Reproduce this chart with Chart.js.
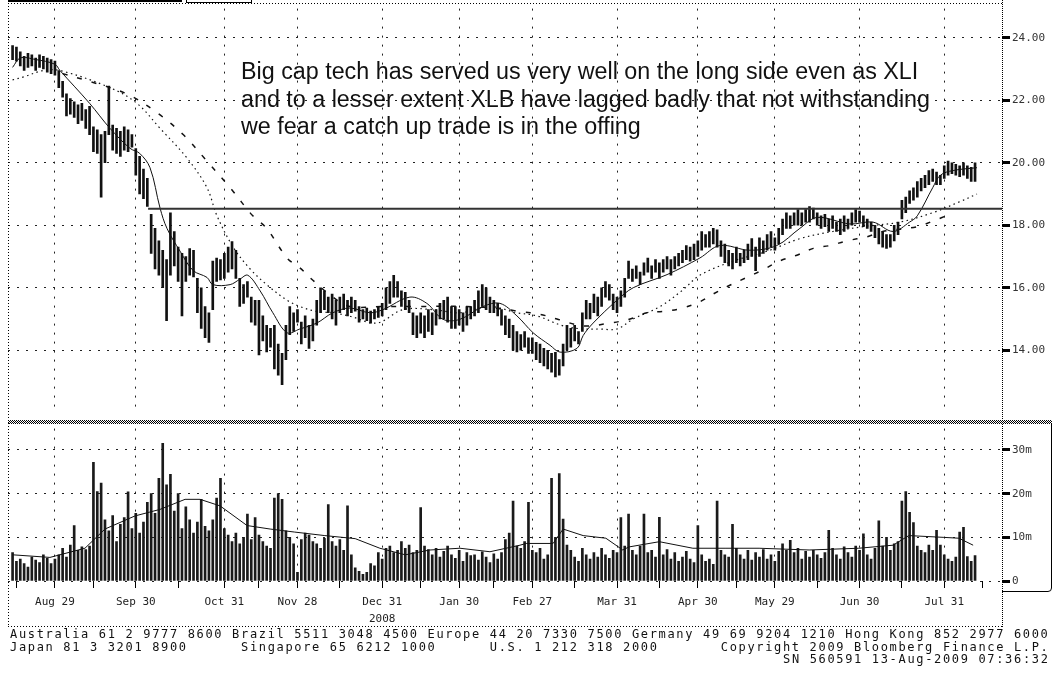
<!DOCTYPE html>
<html>
<head>
<meta charset="utf-8">
<title>XLK daily bars</title>
<script src="https://cdn.jsdelivr.net/npm/chart.js@4.4.1/dist/chart.umd.min.js"></script>
<style>
  html, body { margin: 0; padding: 0; background: #fff; }
  body { position: relative; width: 1056px; height: 677px; overflow: hidden; }
  #price { position: absolute; left: 0; top: 0; }
  #volume { position: absolute; left: 0; top: 420px; }
  .note { position: absolute; left: 241px; top: 58px; font-family: 'Liberation Sans', Arial, sans-serif; font-size: 23.3px; line-height: 27.5px; color: #111; white-space: nowrap; }
  .foot { position: absolute; top: 628px; font-family: 'DejaVu Sans Mono', monospace; font-size: 12px; line-height: 12.5px; letter-spacing: 1.66px; white-space: pre; color: #111; }
</style>
</head>
<body>
<canvas id="price" width="1056" height="422"></canvas>
<canvas id="volume" width="1056" height="210"></canvas>
<div class="note">Big cap tech has served us very well on the long side even as XLI<br>and to a lesser extent XLB have lagged badly that not withstanding<br>we fear a catch up trade is in the offing</div>
<div class="foot" style="left:10px">Australia 61 2 9777 8600 Brazil 5511 3048 4500 Europe 44 20 7330 7500 Germany 49 69 9204 1210 Hong Kong 852 2977 6000
Japan 81 3 3201 8900      Singapore 65 6212 1000      U.S. 1 212 318 2000       Copyright 2009 Bloomberg Finance L.P.</div>
<div class="foot" style="left:783px; top:653px">SN 560591 13-Aug-2009 07:36:32</div>

<script>
// daily bars, trading day 0 = 14 Aug 2008
const highs = [
  23.75,23.70,23.55,23.40,23.50,23.45,23.35,23.45,23.40,23.35,
  23.30,23.25,22.95,22.60,22.20,22.05,21.95,21.85,21.90,21.70,
  21.80,21.15,21.05,20.90,21.00,22.45,21.20,21.10,21.00,21.15,
  21.05,20.90,20.45,20.20,19.80,19.50,18.35,17.90,17.50,17.20,
  16.90,18.40,17.80,17.30,17.10,17.00,17.25,17.20,16.30,16.00,
  15.40,15.20,16.85,16.95,16.90,17.10,17.30,17.48,17.20,16.30,
  16.10,16.20,15.70,15.60,15.60,15.10,14.80,14.70,14.80,14.20,
  13.90,14.80,15.40,15.20,15.30,14.90,15.10,14.80,15.00,15.60,
  16.00,15.90,15.70,15.80,15.60,15.70,15.80,15.60,15.70,15.60,
  15.40,15.30,15.35,15.25,15.30,15.40,15.50,16.00,16.20,16.40,
  16.20,15.90,15.85,15.60,15.20,15.10,15.20,15.10,15.30,15.20,
  15.30,15.50,15.60,15.70,15.40,15.40,15.30,15.20,15.40,15.40,
  15.60,15.90,16.10,16.00,15.70,15.60,15.50,15.30,15.10,15.00,
  14.80,14.60,14.50,14.60,14.40,14.40,14.25,14.20,14.06,14.00,
  13.90,13.93,13.70,14.20,14.80,14.70,14.80,14.60,15.20,15.60,
  15.50,15.80,15.70,16.00,16.20,16.10,15.80,15.70,15.90,16.30,
  16.85,16.60,16.70,16.50,16.80,16.95,16.70,16.90,16.80,16.90,
  17.00,16.90,17.00,17.10,17.20,17.35,17.30,17.40,17.50,17.80,
  17.70,17.80,17.90,17.85,17.50,17.40,17.20,17.10,17.30,17.10,
  17.20,17.40,17.57,17.30,17.60,17.50,17.70,17.80,17.60,17.90,
  18.20,18.40,18.30,18.40,18.50,18.40,18.50,18.60,18.55,18.40,
  18.30,18.35,18.20,18.30,18.10,18.20,18.30,18.20,18.40,18.50,
  18.45,18.30,18.20,18.10,18.00,17.90,17.80,17.70,17.70,18.00,
  18.10,18.80,18.90,19.10,19.20,19.40,19.50,19.60,19.75,19.80,
  19.70,19.60,19.90,20.05,20.00,19.95,19.90,20.00,19.90,19.85,
  20.00
];
const lows = [
  23.30,23.25,23.10,22.95,23.05,23.10,22.95,23.05,23.00,22.90,
  22.85,22.80,22.40,22.10,21.50,21.55,21.45,21.25,21.35,21.10,
  20.90,20.35,20.30,18.90,20.00,20.90,20.40,20.30,20.20,20.40,
  20.35,20.50,19.60,19.00,18.85,18.60,17.10,16.60,16.40,16.00,
  14.95,16.40,16.70,16.20,15.10,16.20,16.40,16.35,15.20,14.70,
  14.40,14.25,15.30,16.20,16.25,16.30,16.50,16.60,16.30,15.40,
  15.50,15.70,14.90,14.80,13.85,14.30,13.95,14.10,13.40,13.20,
  12.90,13.70,14.50,14.60,14.90,14.20,14.40,14.06,14.30,14.80,
  15.20,15.30,15.20,15.00,14.80,15.20,15.30,15.10,15.20,15.25,
  14.90,15.00,14.95,14.87,15.00,15.05,15.10,15.30,15.50,15.70,
  15.70,15.40,15.30,15.20,14.50,14.40,14.55,14.40,14.60,14.50,
  14.80,15.00,15.00,14.90,14.70,14.70,14.80,14.60,14.80,15.00,
  15.10,15.20,15.40,15.30,15.20,15.20,15.10,14.80,14.50,14.40,
  14.00,13.95,14.00,14.10,13.90,13.90,13.70,13.60,13.50,13.40,
  13.30,13.15,13.20,13.50,14.00,14.10,14.30,14.20,14.60,15.00,
  15.00,15.20,15.10,15.40,15.70,15.60,15.30,15.20,15.40,15.70,
  16.30,16.20,16.30,16.10,16.40,16.50,16.30,16.50,16.30,16.50,
  16.60,16.40,16.60,16.70,16.80,16.90,16.85,16.90,17.00,17.20,
  17.30,17.30,17.40,17.30,17.00,16.80,16.70,16.60,16.80,16.70,
  16.80,16.90,17.00,16.55,17.00,17.10,17.20,17.30,17.20,17.40,
  17.70,17.90,17.90,18.00,18.00,18.00,18.10,18.10,18.20,18.00,
  17.90,17.95,17.80,17.90,17.80,17.70,17.80,17.90,18.00,18.10,
  18.10,17.95,17.90,17.80,17.60,17.40,17.30,17.26,17.30,17.50,
  17.70,18.20,18.40,18.70,18.80,18.90,19.10,19.20,19.30,19.40,
  19.30,19.30,19.50,19.60,19.65,19.60,19.55,19.60,19.50,19.40,
  19.40
];
// volume, millions of shares
const volumes = [
  6.5,4.5,5.0,4.0,3.2,5.5,4.8,4.2,6.0,5.2,
  4.0,5.0,6.0,7.5,5.5,8.2,12.7,7.0,7.8,7.2,
  8.0,27.2,20.5,22.4,14.0,11.5,15.0,9.0,13.0,14.5,
  20.4,12.0,15.5,11.0,13.5,18.0,20.0,15.5,23.5,31.5,
  22.0,24.4,16.0,20.0,12.0,17.0,14.0,11.0,13.5,18.7,
  12.5,11.5,14.0,19.0,23.5,12.0,10.5,9.0,11.0,8.5,
  10.0,15.3,9.5,14.5,10.5,9.0,8.0,7.5,19.0,20.0,
  18.7,11.5,10.0,8.5,2.0,9.5,11.0,10.5,9.0,8.5,
  7.5,9.8,17.5,9.0,8.0,9.5,7.0,17.2,6.0,3.0,
  2.2,1.5,2.0,4.0,3.5,6.5,5.0,7.5,8.0,6.5,
  7.0,9.0,7.5,8.2,6.5,7.0,16.8,8.0,7.2,6.0,
  7.5,5.5,6.8,8.0,6.0,5.2,7.0,4.5,6.5,5.8,
  6.0,4.8,6.7,5.5,4.2,6.2,5.0,6.5,9.5,11.0,
  18.3,8.0,7.5,9.0,18.0,7.0,6.5,7.5,5.0,6.0,
  23.5,10.0,24.6,14.2,8.2,7.0,5.5,4.5,7.5,6.0,
  5.0,6.5,5.5,7.5,6.0,5.2,7.0,6.5,14.5,8.0,
  15.3,7.0,6.0,8.0,15.3,6.5,7.0,5.5,14.6,6.0,
  7.2,5.0,6.5,4.5,5.5,6.8,5.0,4.2,12.7,6.0,
  4.5,5.0,3.8,18.3,7.0,6.0,5.5,13.0,7.5,6.0,
  5.0,7.0,4.8,6.5,5.5,7.2,5.0,6.0,4.5,6.8,
  8.5,7.0,9.3,6.5,7.5,5.0,6.8,5.5,7.0,6.0,
  5.2,6.5,11.6,7.5,6.0,5.0,7.8,6.5,5.5,8.0,
  7.0,10.8,6.0,5.0,7.5,13.8,8.0,10.0,7.0,8.5,
  9.0,18.3,20.5,15.7,13.4,8.0,7.0,6.5,8.2,7.0,
  11.6,8.2,6.0,5.0,4.5,5.5,11.2,12.3,5.6,4.5,
  5.8
];

// moving averages (trading day, value)
const maShortDay = [0,2,6,11,12.3,20,25.3,30.5,33,35.7,38.3,40.1,43.5,46.9,50.5,52,56.5,59,61.1,64.3,67.6,71.3,74.6,79,83.2,87.6,92.8,96.2,103.2,107.6,111.8,116.2,122.2,126.6,131,135.2,139.6,142.2,146.6,148.2,150.8,157,161.2,170,178.5,183.7,191.5,198.5,204.5,209,217.5,223.5,228.7,233,235,239,241,244.3,250.5];
const maShort = [23.05,23.35,23.30,23.15,22.95,21.90,21.10,20.46,20.30,19.84,18.55,17.90,17.17,16.55,16.33,16.10,16.10,16.27,16.40,15.90,15.20,14.56,14.68,14.87,15.20,15.35,15.20,15.30,15.70,15.50,14.99,14.99,15.40,15.50,15.10,14.56,14.16,13.94,14.06,14.47,14.87,15.60,16.00,16.42,16.95,17.35,17.20,17.35,17.90,18.25,18.04,18.10,17.80,18.10,18.30,19.20,19.60,19.75,19.84];
const maMidDay = [0,3,8,12.3,25.3,32.3,38.3,45.3,50.5,53.1,57.3,61.7,66,71.3,74.6,79,83.2,87.6,94.6,101.4,109.2,116.2,124,131,136.2,143,148.2,152.6,157,161.2,168.2,174.1,178.5,187.1,196,204.5,213,221.9,230.5,239,246,250.5];
const maMid = [22.65,22.75,22.95,22.95,22.40,21.90,21.10,20.15,19.20,18.30,17.30,16.60,16.10,15.60,15.40,15.24,15.20,15.09,14.87,15.30,15.30,15.20,15.40,15.20,15.10,14.78,14.68,14.68,14.68,15.00,15.40,15.93,16.40,16.85,17.17,17.57,17.80,17.97,18.10,18.40,18.75,19.00];
const maLongDay = [13,20,29.7,37.5,44.3,50.5,56.5,62.4,66,71.3,74.6,78,83.2,87.6,96.2,105,118,126.6,131.8,137,141.4,148.2,155.2,160.4,164.8,169,173.4,178.5,182,186.3,190.7,195,199.3,203.7,208,212.3,216.7,221.9,226,234.9,239,243.5];
const maLong = [22.85,22.60,22.20,21.60,20.90,20.05,19.20,18.30,17.90,16.95,16.64,16.24,15.70,15.40,15.40,15.40,15.40,15.33,15.24,15.15,15.00,14.78,14.87,15.00,15.20,15.24,15.33,15.55,15.80,16.08,16.33,16.58,16.86,17.04,17.26,17.35,17.50,17.63,17.80,17.95,18.13,18.35];
const volMaDay = [0,9.7,18.8,24,31.8,38.3,44.8,48.7,53.9,60.9,66.9,73.3,81.1,89,95.4,102,108.4,116.2,124,131.8,133.4,140.4,143,148.2,154.1,158.5,160.1,168,176.7,185.3,193.9,206.9,219.8,228.7,232.8,241.7,245.8,249.5];
const volMa = [6.0,5.4,7.5,11.9,14.9,16.4,18.7,18.7,17.2,12.7,11.9,11.2,10.4,9.7,7.5,6.0,7.1,7.5,6.7,8.2,8.6,8.6,11.9,10.4,9.8,7.1,7.8,9.0,7.5,7.5,7.5,7.1,7.5,8.2,10.4,10.0,9.8,8.2];

// horizontal line drawn on the chart
const levelPrice = 18.53;
const levelFromDay = 35.2;

// axes
const monthEnds = [11,32,55,74,96,116,135,157,178,198,220,242];
const monthLabels = ['Aug 29','Sep 30','Oct 31','Nov 28','Dec 31','Jan 30','Feb 27','Mar 31','Apr 30','May 29','Jun 30','Jul 31'];
const yearLabel = '2008';
const yearUnder = 'Dec 31';
const midMonths = [1,21,43,64,85,106,125,146,168,188,209,231,252];
const priceTicks = [14,16,18,20,22,24];
const volTicks = [0,10,20,30];
const dayMin = -1.19, dayMax = 257;

const gridDash = [2, 7];
const tickFont = { family: "'DejaVu Sans Mono', monospace", size: 11 };

function pts(xs, ys) {
  return xs.map((x, i) => ({ x: x, y: ys[i] }));
}

function dotLine(ctx, x1, y1, x2, y2, dash, offset) {
  ctx.save();
  ctx.strokeStyle = '#000';
  ctx.lineWidth = 1;
  ctx.setLineDash(dash);
  ctx.lineDashOffset = offset || 0;
  ctx.beginPath();
  ctx.moveTo(x1, y1);
  ctx.lineTo(x2, y2);
  ctx.stroke();
  ctx.restore();
}

const priceFrame = {
  id: 'priceFrame',
  afterDraw(chart) {
    const ctx = chart.ctx, a = chart.chartArea;
    ctx.save();
    ctx.fillStyle = '#000';
    ctx.fillRect(a.left, 0, 174, 2);
    ctx.strokeStyle = '#000';
    ctx.strokeRect(186.5, -1.5, 65, 4);
    ctx.restore();
    dotLine(ctx, a.left, 3.5, a.right, 3.5, [1, 2]);
    dotLine(ctx, a.left + 0.5, 3, a.left + 0.5, 422, [1, 2]);
    dotLine(ctx, a.right + 0.5, 0, a.right + 0.5, 422, [1, 1]);
  }
};

const volumeFrame = {
  id: 'volumeFrame',
  afterDraw(chart) {
    const ctx = chart.ctx, a = chart.chartArea;
    for (let r = 0; r < 4; r++) dotLine(ctx, 8, r + 0.5, 1052, r + 0.5, [1, 1], r % 2);
    dotLine(ctx, 8.5, 0, 8.5, 207, [1, 2]);
    dotLine(ctx, a.right + 0.5, 4, a.right + 0.5, 207, [1, 1]);
    dotLine(ctx, 8, 206.5, a.right, 206.5, [1, 2]);
    ctx.save();
    ctx.strokeStyle = '#000';
    ctx.lineWidth = 1;
    ctx.beginPath();
    ctx.moveTo(1051.5, 4);
    ctx.lineTo(1051.5, 168);
    ctx.quadraticCurveTo(1051.5, 171.5, 1048, 171.5);
    ctx.lineTo(a.right, 171.5);
    ctx.stroke();
    ctx.restore();
  }
};

const days = highs.map((h, i) => i);

new Chart(document.getElementById('price'), {
  type: 'bar',
  data: {
    datasets: [
      {
        type: 'bar',
        data: days.map(i => ({ x: i, y: [lows[i], highs[i]] })),
        backgroundColor: '#111',
        barThickness: 2,
        grouped: false,
        order: 5
      },
      {
        type: 'line',
        data: pts(maShortDay, maShort),
        borderColor: '#111',
        borderWidth: 1,
        pointRadius: 0,
        tension: 0.35,
        order: 1
      },
      {
        type: 'line',
        data: pts(maMidDay, maMid),
        borderColor: '#111',
        borderWidth: 1.2,
        borderDash: [1.5, 3.5],
        pointRadius: 0,
        tension: 0.35,
        order: 2
      },
      {
        type: 'line',
        data: pts(maLongDay, maLong),
        borderColor: '#111',
        borderWidth: 1.5,
        borderDash: [5, 10],
        pointRadius: 0,
        tension: 0.35,
        order: 3
      },
      {
        type: 'line',
        data: [{ x: levelFromDay, y: levelPrice }, { x: dayMax, y: levelPrice }],
        borderColor: '#333',
        borderWidth: 2,
        pointRadius: 0,
        order: 0
      }
    ]
  },
  options: {
    responsive: false,
    animation: false,
    events: [],
    devicePixelRatio: 1,
    layout: { padding: { left: 8, top: 3, bottom: 2, right: 0 } },
    plugins: { legend: { display: false }, tooltip: { enabled: false } },
    scales: {
      x: {
        type: 'linear',
        min: dayMin,
        max: dayMax,
        offset: false,
        afterBuildTicks: s => { s.ticks = monthEnds.map(v => ({ value: v })); },
        afterFit: s => { s.height = 0; },
        ticks: { display: false },
        grid: { color: '#222', lineWidth: 1, drawTicks: false, offset: false },
        border: { display: false, dash: gridDash }
      },
      y: {
        position: 'right',
        min: 11.98,
        max: 24.93,
        afterBuildTicks: s => { s.ticks = priceTicks.map(v => ({ value: v })); },
        afterFit: s => { s.width = 54; },
        ticks: { callback: v => v.toFixed(2), font: tickFont, color: '#333', padding: 2 },
        grid: { color: '#222', lineWidth: 1, tickLength: 8, tickWidth: 3, tickColor: '#000' },
        border: { display: false, dash: gridDash }
      }
    }
  },
  plugins: [priceFrame]
});

const xTicks = monthEnds.concat(midMonths).sort((a, b) => a - b);

new Chart(document.getElementById('volume'), {
  type: 'bar',
  data: {
    datasets: [
      {
        type: 'bar',
        data: days.map(i => ({ x: i, y: volumes[i] })),
        backgroundColor: '#1a1a1a',
        barThickness: 2,
        grouped: false,
        order: 5
      },
      {
        type: 'line',
        data: pts(volMaDay, volMa),
        borderColor: '#111',
        borderWidth: 1,
        pointRadius: 0,
        tension: 0,
        order: 1
      }
    ]
  },
  options: {
    responsive: false,
    animation: false,
    events: [],
    devicePixelRatio: 1,
    layout: { padding: { left: 8, top: 4, bottom: 0, right: 0 } },
    plugins: { legend: { display: false }, tooltip: { enabled: false } },
    scales: {
      x: {
        type: 'linear',
        min: dayMin,
        max: dayMax,
        offset: false,
        afterBuildTicks: s => { s.ticks = xTicks.map(v => ({ value: v })); },
        afterFit: s => { s.height = 49; },
        ticks: {
          autoSkip: false,
          maxRotation: 0,
          font: Object.assign({ lineHeight: 1.5 }, tickFont),
          color: '#222',
          padding: 6,
          callback: v => {
            const k = monthEnds.indexOf(v);
            if (k < 0) return '';
            return monthLabels[k] === yearUnder ? [monthLabels[k], yearLabel] : monthLabels[k];
          }
        },
        grid: {
          color: c => monthEnds.includes(c.tick.value) ? '#222' : 'rgba(0,0,0,0)',
          lineWidth: 1,
          tickLength: 7,
          tickColor: '#000',
          offset: false
        },
        border: { display: false, dash: gridDash }
      },
      y: {
        position: 'right',
        min: 0,
        max: 34.9,
        afterBuildTicks: s => { s.ticks = volTicks.map(v => ({ value: v })); },
        afterFit: s => { s.width = 54; },
        ticks: { callback: v => v === 0 ? '0' : v + 'm', font: tickFont, color: '#333', padding: 2 },
        grid: { color: '#222', lineWidth: 1, tickLength: 8, tickWidth: 3, tickColor: '#000' },
        border: { display: false, dash: gridDash }
      }
    }
  },
  plugins: [volumeFrame]
});
</script>
</body>
</html>
